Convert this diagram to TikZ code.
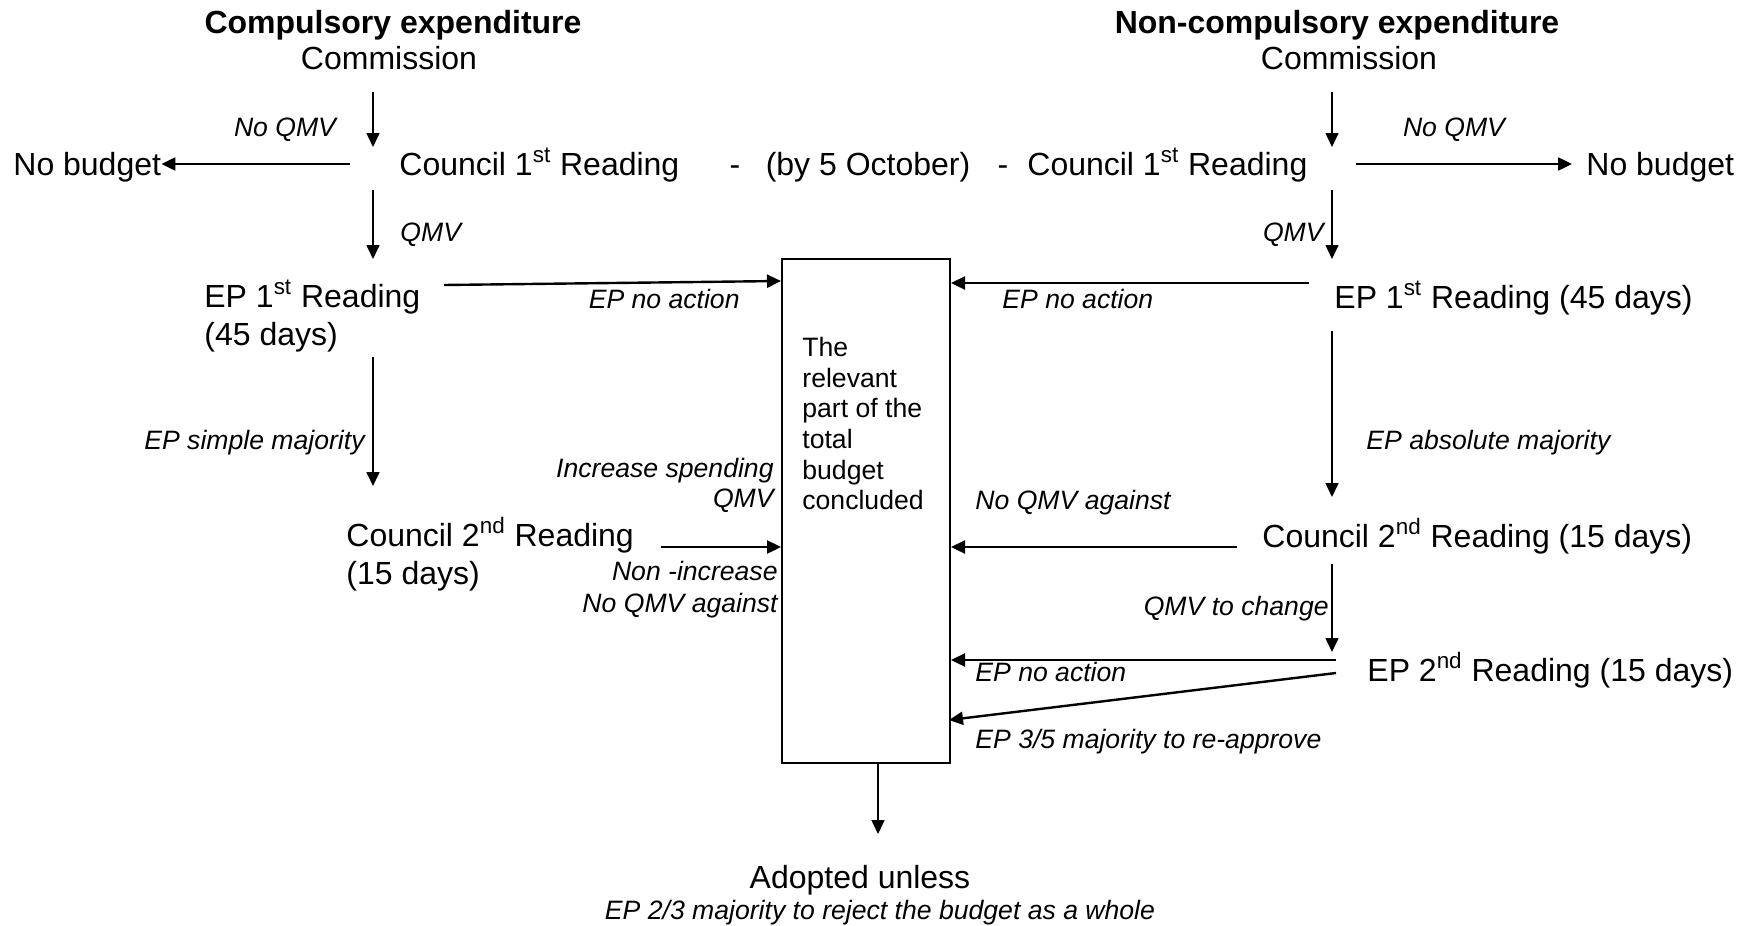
\documentclass[tikz,border=0pt]{standalone}
\usepackage{fontspec}
\setmainfont{Liberation Sans}
\usetikzlibrary{arrows.meta}
\begin{document}
\begin{tikzpicture}[x=0.5pt,y=-0.5pt,
  txt/.style={inner sep=0pt,font=\fontsize{16}{19}\selectfont},
  lbl/.style={inner sep=0pt,font=\fontsize{13.3}{15}\selectfont\itshape},
  hdr/.style={inner sep=0pt,font=\fontsize{16}{19}\selectfont\bfseries},
  tarrow/.style={line width=0.8pt,-{Triangle[length=7pt,width=6.5pt]}},
  warrow/.style={line width=1.2pt,-{Triangle[length=7pt,width=6.5pt]}},
]
\useasboundingbox (0,0) rectangle (1751,926);

% ---- left column
\node[hdr,anchor=base] (titleL) at (393,33) {Compulsory expenditure};
\node[txt,anchor=base] (comL) at (389,69) {Commission};
\node[txt,anchor=base west] (nbL) at (13,175) {No budget};
\node[txt,anchor=base west] (c1L) at (399,175) {Council 1\textsuperscript{st} Reading};
\node[txt,anchor=base] (dash1) at (735,175) {-};
\node[txt,anchor=base] (oct) at (868,175) {(by 5 October)};
\node[txt,anchor=base] (dash2) at (1003,175) {-};
\node[txt,anchor=base west] (c1R) at (1027,175) {Council 1\textsuperscript{st} Reading};
\node[txt,align=left,anchor=west] (ep1L) at (204,316) {EP 1\textsuperscript{st} Reading\\(45 days)};
\node[txt,align=left,anchor=west] (c2L) at (346,554) {Council 2\textsuperscript{nd} Reading\\(15 days)};

\node[lbl,anchor=base] (lNoQMVL) at (285,136) {No QMV};
\node[lbl,anchor=base west] (lQMVL) at (400,241) {QMV};
\node[lbl,anchor=base east] (lEPnoL) at (740,308) {EP no action};
\node[lbl,anchor=base east] (lsimple) at (365,449) {EP simple majority};
\node[lbl,align=right,anchor=east] (lincr) at (774,485) {Increase spending\\QMV};
\node[lbl,align=right,anchor=east,font=\fontsize{13.3}{16}\selectfont\itshape] (lnonincr) at (778,590) {Non -increase\\No QMV against};

% ---- central box
\node[draw,line width=1pt,minimum width=84pt,minimum height=252pt,anchor=north west,inner sep=0pt] (box) at (781,258) {};
\node[anchor=north west,align=left,inner sep=0pt,font=\fontsize{13.3}{15.3}\selectfont] (boxtxt) at (802,337) {The\\relevant\\part of the\\total\\budget\\concluded};

\node[txt,anchor=base] (adopt) at (860,888) {Adopted unless};
\node[lbl,anchor=base] (adoptsub) at (880,919) {EP 2/3 majority to reject the budget as a whole};

% ---- right column
\node[hdr,anchor=base] (titleR) at (1337,33) {Non-compulsory expenditure};
\node[txt,anchor=base] (comR) at (1349,69) {Commission};
\node[txt,anchor=base west] (nbR) at (1586,175) {No budget};
\node[txt,anchor=base west] (ep1R) at (1334,308) {EP 1\textsuperscript{st} Reading (45 days)};
\node[txt,anchor=base west] (c2R) at (1262,547) {Council 2\textsuperscript{nd} Reading (15 days)};
\node[txt,anchor=base west] (ep2R) at (1367,681) {EP 2\textsuperscript{nd} Reading (15 days)};

\node[lbl,anchor=base] (lNoQMVR) at (1454,136) {No QMV};
\node[lbl,anchor=base east] (lQMVR) at (1324,241) {QMV};
\node[lbl,anchor=base west] (lEPnoR) at (1002,308) {EP no action};
\node[lbl,anchor=base west] (labs) at (1366,449) {EP absolute majority};
\node[lbl,anchor=base west] (lnoqmvR) at (975,509) {No QMV against};
\node[lbl,anchor=base east] (lqchange) at (1329,615) {QMV to change};
\node[lbl,anchor=base west] (lEPno2) at (975,681) {EP no action};
\node[lbl,anchor=base west] (l35) at (975,748) {EP 3/5 majority to re-approve};

% ---- connector end points
\coordinate (a1s) at (373,92);   \coordinate (a1e) at (373,147);
\coordinate (a2s) at (350,164);
\coordinate (a3s) at (373,190);  \coordinate (a3e) at (373,259);
\coordinate (a4s) at (444,285);  \coordinate (a4e) at (781,281);
\coordinate (a5s) at (373,357);  \coordinate (a5e) at (373,486);
\coordinate (a6s) at (661,547);
\coordinate (a7s) at (1332,92);  \coordinate (a7e) at (1332,147);
\coordinate (a8s) at (1356,164); \coordinate (a8e) at (1572,164);
\coordinate (a9s) at (1332,190); \coordinate (a9e) at (1332,259);
\coordinate (a10s) at (1309,283);
\coordinate (a11s) at (1332,331); \coordinate (a11e) at (1332,497);
\coordinate (a12s) at (1237,547);
\coordinate (a13s) at (1332,564); \coordinate (a13e) at (1332,652);
\coordinate (a14s) at (1336,660);
\coordinate (a15s) at (1336,673); \coordinate (a15e) at (949,720);
\coordinate (a16e) at (878,834);

% ---- connectors
\draw[tarrow] (a1s) -- (a1e);
\draw[warrow] (a2s) -- (a2s -| nbL.east);
\draw[tarrow] (a3s) -- (a3e);
\draw[warrow] (a4s) -- (a4e);
\draw[tarrow] (a5s) -- (a5e);
\draw[warrow] (a6s) -- (a6s -| box.west);
\draw[tarrow] (a7s) -- (a7e);
\draw[warrow] (a8s) -- (a8e);
\draw[tarrow] (a9s) -- (a9e);
\draw[warrow] (a10s) -- (a10s -| box.east);
\draw[tarrow] (a11s) -- (a11e);
\draw[warrow] (a12s) -- (a12s -| box.east);
\draw[tarrow] (a13s) -- (a13e);
\draw[warrow] (a14s) -- (a14s -| box.east);
\draw[warrow] (a15s) -- (a15e);
\draw[tarrow] (box.south -| a16e) -- (a16e);
\end{tikzpicture}
\end{document}
